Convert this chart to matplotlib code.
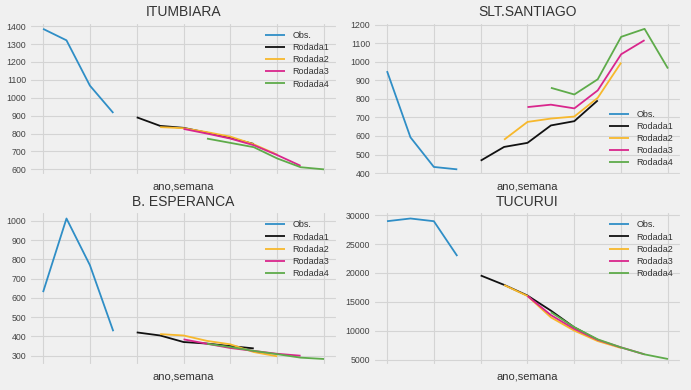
"""Observed vs forecast rounds (Rodada1..4) for four plants, 2x2 grid."""

import matplotlib
matplotlib.use("Agg")
import matplotlib.pyplot as plt
from matplotlib.ticker import MultipleLocator

plt.style.use("fivethirtyeight")
plt.rcParams["font.family"] = ["Liberation Sans", "DejaVu Sans"]
plt.rcParams["text.color"] = "#333333"
plt.rcParams["xtick.color"] = "#444444"
plt.rcParams["ytick.color"] = "#444444"
plt.rcParams["axes.labelcolor"] = "#333333"

# x positions: weeks 0..3 observed, forecasts of 6 weeks starting at 4, 5, 6, 7
obs_x = [0, 1, 2, 3]
rod_x = {
    "Rodada1": [4, 5, 6, 7, 8, 9],
    "Rodada2": [5, 6, 7, 8, 9, 10],
    "Rodada3": [6, 7, 8, 9, 10, 11],
    "Rodada4": [7, 8, 9, 10, 11, 12],
}

itumbiara_obs = [1385, 1321, 1068, 915]
itumbiara_r1 = [891, 843, 832, 805, 775, 742]
itumbiara_r2 = [836, 830, 808, 783, 740, 682]
itumbiara_r3 = [826, 800, 772, 735, 680, 620]
itumbiara_r4 = [772, 748, 724, 661, 612, 600]

santiago_obs = [950, 593, 433, 420]
santiago_r1 = [467, 541, 563, 657, 680, 792]
santiago_r2 = [580, 676, 694, 705, 806, 996]
santiago_r3 = [756, 769, 749, 846, 1041, 1117]
santiago_r4 = [860, 824, 906, 1135, 1178, 964]

esperanca_obs = [630, 1012, 770, 427]
esperanca_r1 = [421, 405, 371, 363, 350, 338]
esperanca_r2 = [412, 405, 377, 359, 319, 297]
esperanca_r3 = [385, 362, 340, 325, 310, 300]
esperanca_r4 = [362, 345, 325, 308, 290, 283]

tucurui_obs = [28950, 29420, 28950, 22920]
tucurui_r1 = [19560, 17930, 16080, 13470, 10570, 8400]
tucurui_r2 = [17900, 16000, 12300, 10000, 8200, 7000]
tucurui_r3 = [16000, 12700, 10300, 8400, 7100, 5900]
tucurui_r4 = [13200, 10600, 8500, 7100, 5900, 5100]

plants = [
    ("ITUMBIARA", itumbiara_obs, [itumbiara_r1, itumbiara_r2, itumbiara_r3, itumbiara_r4], "upper right", 100),
    ("SLT.SANTIAGO", santiago_obs, [santiago_r1, santiago_r2, santiago_r3, santiago_r4], "lower right", 100),
    ("B. ESPERANCA", esperanca_obs, [esperanca_r1, esperanca_r2, esperanca_r3, esperanca_r4], "upper right", 100),
    ("TUCURUI", tucurui_obs, [tucurui_r1, tucurui_r2, tucurui_r3, tucurui_r4], "upper right", 5000),
]

obs_color = "#2f8ec6"
rod_colors = ["#111111", "#f7b82c", "#d9268c", "#5eab4a"]

fig, axes = plt.subplots(2, 2, figsize=(6.91, 3.9), dpi=100)
fig.patch.set_facecolor("#f0f0f0")
fig.subplots_adjust(left=0.042, right=0.987, top=0.944, bottom=0.0615,
                    wspace=0.113, hspace=0.227)

for ax, (name, obs, rods, loc, ystep) in zip(axes.flat, plants):
    ax.set_facecolor("#f0f0f0")
    ax.plot(obs_x, obs, color=obs_color, lw=1.3, label="Obs.")
    for (label, xs), vals, c in zip(rod_x.items(), rods, rod_colors):
        ax.plot(xs, vals, color=c, lw=1.3, label=label)
    ax.set_title(name, fontsize=10, pad=4)
    ax.set_xticks(range(0, 13, 2))
    ax.set_xticklabels([""] * 7)
    ax.yaxis.set_major_locator(MultipleLocator(ystep))
    ax.set_xlabel("ano,semana", fontsize=8, labelpad=2)
    ax.tick_params(axis="both", labelsize=6.3, pad=2)
    ax.grid(True, color="#d4d4d4", lw=0.8)
    ax.legend(loc=loc, fontsize=6.5, frameon=False, handlelength=2.2,
              labelspacing=0.35, borderaxespad=0.6)

fig.savefig("out.png", dpi=100, facecolor=fig.get_facecolor())
